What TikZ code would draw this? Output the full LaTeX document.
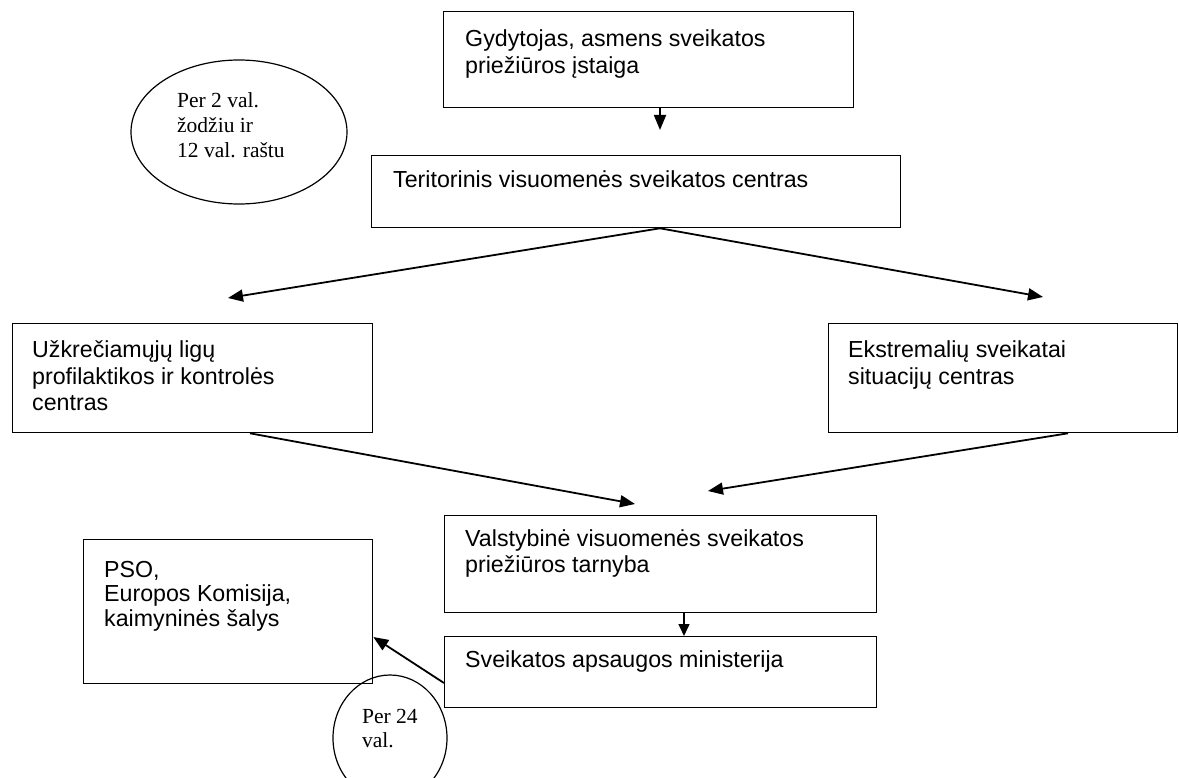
\documentclass[tikz,border=0pt]{standalone}
\usepackage{fontspec}
\setmainfont{Liberation Sans}
\newfontfamily\serifface{Liberation Serif}
\usetikzlibrary{arrows.meta,calc,shapes.geometric}
\newcommand\btext[3]{\parbox[t]{#1}{\raggedright\fontsize{23.2}{#2}\selectfont #3}}
\newcommand\etext[2]{\parbox[t]{200pt}{\raggedright\serifface\fontsize{21.5}{#1}\selectfont #2}}
\tikzset{
  boxshape/.style={draw, line width=1.3pt, rectangle, inner sep=0pt, anchor=north west},
  oval/.style={draw, line width=1.2pt, ellipse, inner sep=0pt},
  arr/.style={line width=1.8pt, -{Triangle[length=15pt,width=12pt]}},
  arrs/.style={line width=1.5pt, -{Triangle[length=12pt,width=11pt]}},
  lbl/.style={anchor=base west, inner sep=0pt}
}
\begin{document}
\begin{tikzpicture}[x=1pt,y=-1pt]
\useasboundingbox (0,0) rectangle (1179,778);
\clip (0,0) rectangle (1179,778);
% boxes
\node[boxshape, minimum width=410pt, minimum height=96pt] (b1) at (443,11) {};
\node[boxshape, minimum width=529pt, minimum height=72pt] (b2) at (371,155) {};
\node[boxshape, minimum width=360pt, minimum height=109pt] (b3) at (12,323) {};
\node[boxshape, minimum width=349pt, minimum height=109pt] (b4) at (828,323) {};
\node[boxshape, minimum width=432pt, minimum height=97pt] (b5) at (444,515) {};
\node[boxshape, minimum width=432pt, minimum height=71pt] (b6) at (444,636) {};
\node[boxshape, minimum width=289pt, minimum height=144pt] (b7) at (83,539) {};
% texts
\node[lbl] (t1) at (465,47) {\btext{380pt}{27}{Gydytojas, asmens sveikatos\\priežiūros įstaiga}};
\node[lbl] (t2) at (393,188) {\btext{500pt}{27}{Teritorinis visuomenės sveikatos centras}};
\node[lbl] (t3) at (32,357) {\btext{330pt}{27}{Užkrečiamųjų ligų\\profilaktikos ir kontrolės\\centras}};
\node[lbl] (t4) at (848,357) {\btext{320pt}{27}{Ekstremalių sveikatai\\situacijų centras}};
\node[lbl] (t5) at (465,546) {\btext{400pt}{26}{Valstybinė visuomenės sveikatos\\priežiūros tarnyba}};
\node[lbl] (t6) at (465,667) {\btext{400pt}{26}{Sveikatos apsaugos ministerija}};
\node[lbl] (t7) at (104,577) {\btext{260pt}{24.5}{PSO,\\Europos Komisija,\\kaimyninės šalys}};
% ellipses
\node[oval, minimum width=216pt, minimum height=144pt] (e1) at (239,132) {};
\node[lbl] (e1t) at (177,108) {\etext{25}{Per 2 val.\\žodžiu ir\\12 val. raštu}};
\node[oval, minimum width=114pt, minimum height=126pt] (e2) at (390,738) {};
\node[lbl] (e2t) at (362,723) {\etext{24}{Per 24\\val.}};
% arrow end points
\coordinate (x1) at (660,0);
\coordinate (a1) at (660,130);
\coordinate (a2) at (228,298);
\coordinate (a3) at (1043,297);
\coordinate (x3) at (250,0);
\coordinate (a4) at (635,504);
\coordinate (x4) at (1068,0);
\coordinate (a5) at (708,491);
\coordinate (x5) at (684,0);
\coordinate (y6) at (0,683);
\coordinate (y7) at (0,637);
% connectors
\draw[arr] (b1.south -| x1) -- (a1);
\draw[arr] (b2.south -| x1) -- (a2);
\draw[arr] (b2.south -| x1) -- (a3);
\draw[arr] (b3.south -| x3) -- (a4);
\draw[arr] (b4.south -| x4) -- (a5);
\draw[arrs] (b5.south -| x5) -- (b6.north -| x5);
\draw[arr] (b6.west |- y6) -- (b7.east |- y7);
\end{tikzpicture}
\end{document}
